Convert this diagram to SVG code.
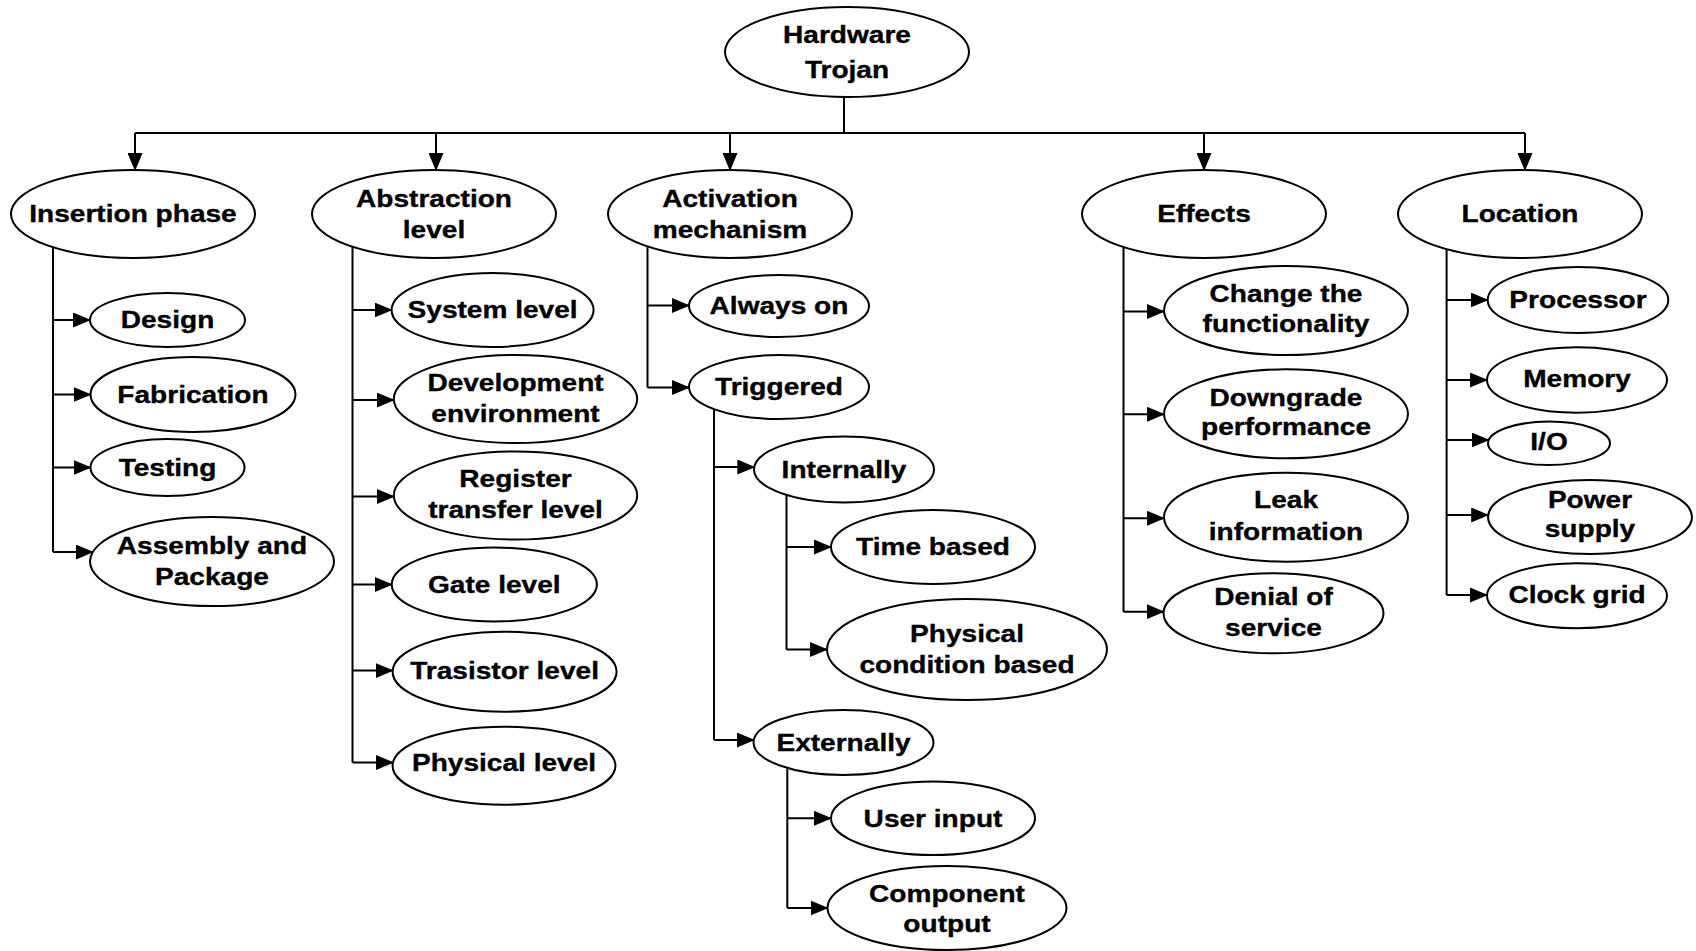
<svg xmlns="http://www.w3.org/2000/svg" width="1696" height="951" viewBox="0 0 1696 951">
<style>
.n{fill:#fff;stroke:#000;stroke-width:2}
.c{fill:none;stroke:#000;stroke-width:2}
.a{marker-end:url(#ah)}
text{font-family:"Liberation Sans",Arial,sans-serif;font-weight:bold;font-size:24px;text-anchor:middle;fill:#000;stroke:#000;stroke-width:0.35}
</style>
<defs>
<marker id="ah" markerUnits="userSpaceOnUse" markerWidth="18" markerHeight="15" refX="17" refY="7.5" orient="auto">
<path d="M0,0 L18,7.5 L0,15 z" fill="#000"/>
</marker>
</defs>
<rect width="1696" height="951" fill="#fff"/>
<g id="connectors">
<path class="c" d="M844,97 V133 M135,133 H1525"/>
<path class="c a" d="M135,133 V170"/>
<path class="c a" d="M436,133 V170"/>
<path class="c a" d="M730,133 V170"/>
<path class="c a" d="M1204,133 V170"/>
<path class="c a" d="M1525,133 V170"/>
<path class="c" d="M53,214 V552"/>
<path class="c a" d="M53,320 H90"/>
<path class="c a" d="M53,394.5 H90.5"/>
<path class="c a" d="M53,467.5 H90.5"/>
<path class="c a" d="M53,552 H92.8"/>
<path class="c" d="M352.5,214 V762.5"/>
<path class="c a" d="M352.5,310 H391.6"/>
<path class="c a" d="M352.5,400 H393.8"/>
<path class="c a" d="M352.5,496.5 H393.8"/>
<path class="c a" d="M352.5,584.5 H391.7"/>
<path class="c a" d="M352.5,670.6 H392.6"/>
<path class="c a" d="M352.5,762.5 H393"/>
<path class="c" d="M647.5,214 V387.5"/>
<path class="c a" d="M647.5,305.5 H689"/>
<path class="c a" d="M647.5,387.5 H689"/>
<path class="c" d="M714,387 V740"/>
<path class="c a" d="M714,467 H754.3"/>
<path class="c a" d="M714,740 H753.8"/>
<path class="c" d="M786.5,469 V649.5"/>
<path class="c a" d="M786.5,547 H831"/>
<path class="c a" d="M786.5,649.5 H827"/>
<path class="c" d="M787.3,742 V908"/>
<path class="c a" d="M787.3,818.3 H831"/>
<path class="c a" d="M787.3,908 H827.5"/>
<path class="c" d="M1123.5,214 V611.7"/>
<path class="c a" d="M1123.5,311.5 H1164"/>
<path class="c a" d="M1123.5,414.3 H1164"/>
<path class="c a" d="M1123.5,518.3 H1164"/>
<path class="c a" d="M1123.5,611.7 H1163.6"/>
<path class="c" d="M1446.6,214 V595"/>
<path class="c a" d="M1446.6,300 H1487.7"/>
<path class="c a" d="M1446.6,380 H1487"/>
<path class="c a" d="M1446.6,440 H1488.7"/>
<path class="c a" d="M1446.6,515 H1488.2"/>
<path class="c a" d="M1446.6,595 H1487"/>
</g>
<g id="hardware-trojan"><ellipse class="n" cx="847" cy="52" rx="122" ry="45"/><text transform="translate(847 0) scale(1.17 1)"><tspan x="0" y="43">Hardware</tspan><tspan x="0" y="78">Trojan</tspan></text></g>
<g id="insertion-phase"><ellipse class="n" cx="133" cy="214" rx="122" ry="44"/><text transform="translate(133 0) scale(1.17 1)"><tspan x="0" y="222">Insertion phase</tspan></text></g>
<g id="abstraction-level"><ellipse class="n" cx="434" cy="214" rx="122" ry="44"/><text transform="translate(434 0) scale(1.17 1)"><tspan x="0" y="207">Abstraction</tspan><tspan x="0" y="238">level</tspan></text></g>
<g id="activation-mechanism"><ellipse class="n" cx="730" cy="214" rx="122" ry="44"/><text transform="translate(730 0) scale(1.17 1)"><tspan x="0" y="207">Activation</tspan><tspan x="0" y="238">mechanism</tspan></text></g>
<g id="effects"><ellipse class="n" cx="1204" cy="214" rx="122" ry="44"/><text transform="translate(1204 0) scale(1.17 1)"><tspan x="0" y="222">Effects</tspan></text></g>
<g id="location"><ellipse class="n" cx="1520" cy="214" rx="122" ry="44"/><text transform="translate(1520 0) scale(1.17 1)"><tspan x="0" y="222">Location</tspan></text></g>
<g id="design"><ellipse class="n" cx="167.5" cy="320" rx="77.5" ry="27"/><text transform="translate(167.5 0) scale(1.17 1)"><tspan x="0" y="328">Design</tspan></text></g>
<g id="fabrication"><ellipse class="n" cx="193" cy="394.5" rx="102.5" ry="37.5"/><text transform="translate(193 0) scale(1.17 1)"><tspan x="0" y="403">Fabrication</tspan></text></g>
<g id="testing"><ellipse class="n" cx="167.5" cy="467.5" rx="77" ry="28.5"/><text transform="translate(167.5 0) scale(1.17 1)"><tspan x="0" y="476">Testing</tspan></text></g>
<g id="assembly-package"><ellipse class="n" cx="212" cy="561.5" rx="122" ry="44.5"/><text transform="translate(212 0) scale(1.17 1)"><tspan x="0" y="554">Assembly and</tspan><tspan x="0" y="585">Package</tspan></text></g>
<g id="system-level"><ellipse class="n" cx="492.6" cy="310" rx="101" ry="37"/><text transform="translate(492.6 0) scale(1.17 1)"><tspan x="0" y="318.5">System level</tspan></text></g>
<g id="development-environment"><ellipse class="n" cx="515.5" cy="399" rx="121.7" ry="44"/><text transform="translate(515.5 0) scale(1.17 1)"><tspan x="0" y="391">Development</tspan><tspan x="0" y="422">environment</tspan></text></g>
<g id="register-transfer-level"><ellipse class="n" cx="515.5" cy="495.5" rx="121.7" ry="44"/><text transform="translate(515.5 0) scale(1.17 1)"><tspan x="0" y="487.5">Register</tspan><tspan x="0" y="518.5">transfer level</tspan></text></g>
<g id="gate-level"><ellipse class="n" cx="494.3" cy="584.5" rx="102.6" ry="37"/><text transform="translate(494.3 0) scale(1.17 1)"><tspan x="0" y="593">Gate level</tspan></text></g>
<g id="trasistor-level"><ellipse class="n" cx="504.6" cy="671.7" rx="112" ry="40"/><text transform="translate(504.6 0) scale(1.17 1)"><tspan x="0" y="679.5">Trasistor level</tspan></text></g>
<g id="physical-level"><ellipse class="n" cx="504" cy="765.7" rx="111.4" ry="39"/><text transform="translate(504 0) scale(1.17 1)"><tspan x="0" y="771.5">Physical level</tspan></text></g>
<g id="always-on"><ellipse class="n" cx="779" cy="306" rx="90" ry="31"/><text transform="translate(779 0) scale(1.17 1)"><tspan x="0" y="314.5">Always on</tspan></text></g>
<g id="triggered"><ellipse class="n" cx="779" cy="387" rx="90" ry="32"/><text transform="translate(779 0) scale(1.17 1)"><tspan x="0" y="395.5">Triggered</tspan></text></g>
<g id="internally"><ellipse class="n" cx="844" cy="469.5" rx="90" ry="33"/><text transform="translate(844 0) scale(1.17 1)"><tspan x="0" y="478">Internally</tspan></text></g>
<g id="time-based"><ellipse class="n" cx="933" cy="547" rx="102" ry="37"/><text transform="translate(933 0) scale(1.17 1)"><tspan x="0" y="555">Time based</tspan></text></g>
<g id="physical-condition-based"><ellipse class="n" cx="967" cy="649.5" rx="140" ry="50.5"/><text transform="translate(967 0) scale(1.17 1)"><tspan x="0" y="642.5">Physical</tspan><tspan x="0" y="673">condition based</tspan></text></g>
<g id="externally"><ellipse class="n" cx="843.5" cy="742.5" rx="90" ry="32.5"/><text transform="translate(843.5 0) scale(1.17 1)"><tspan x="0" y="751.5">Externally</tspan></text></g>
<g id="user-input"><ellipse class="n" cx="933" cy="818.3" rx="102" ry="36.7"/><text transform="translate(933 0) scale(1.17 1)"><tspan x="0" y="826.7">User input</tspan></text></g>
<g id="component-output"><ellipse class="n" cx="947" cy="908" rx="119.5" ry="42"/><text transform="translate(947 0) scale(1.17 1)"><tspan x="0" y="901.7">Component</tspan><tspan x="0" y="931.7">output</tspan></text></g>
<g id="change-functionality"><ellipse class="n" cx="1286" cy="310.5" rx="122" ry="44.5"/><text transform="translate(1286 0) scale(1.17 1)"><tspan x="0" y="302.5">Change the</tspan><tspan x="0" y="332">functionality</tspan></text></g>
<g id="downgrade-performance"><ellipse class="n" cx="1286" cy="413.8" rx="122" ry="44.5"/><text transform="translate(1286 0) scale(1.17 1)"><tspan x="0" y="406.5">Downgrade</tspan><tspan x="0" y="435.5">performance</tspan></text></g>
<g id="leak-information"><ellipse class="n" cx="1286" cy="517.2" rx="122" ry="44.5"/><text transform="translate(1286 0) scale(1.17 1)"><tspan x="0" y="508.5">Leak</tspan><tspan x="0" y="540">information</tspan></text></g>
<g id="denial-of-service"><ellipse class="n" cx="1273.5" cy="613.3" rx="110" ry="40"/><text transform="translate(1273.5 0) scale(1.17 1)"><tspan x="0" y="605">Denial of</tspan><tspan x="0" y="636">service</tspan></text></g>
<g id="processor"><ellipse class="n" cx="1578" cy="300" rx="90.3" ry="33"/><text transform="translate(1578 0) scale(1.17 1)"><tspan x="0" y="308.5">Processor</tspan></text></g>
<g id="memory"><ellipse class="n" cx="1577" cy="380" rx="90" ry="32.7"/><text transform="translate(1577 0) scale(1.17 1)"><tspan x="0" y="387.5">Memory</tspan></text></g>
<g id="io"><ellipse class="n" cx="1549" cy="443.3" rx="61" ry="21.7"/><text transform="translate(1549 0) scale(1.17 1)"><tspan x="0" y="450">I/O</tspan></text></g>
<g id="power-supply"><ellipse class="n" cx="1590" cy="517" rx="102" ry="37"/><text transform="translate(1590 0) scale(1.17 1)"><tspan x="0" y="508.5">Power</tspan><tspan x="0" y="537.5">supply</tspan></text></g>
<g id="clock-grid"><ellipse class="n" cx="1577" cy="595.8" rx="90" ry="32.5"/><text transform="translate(1577 0) scale(1.17 1)"><tspan x="0" y="603">Clock grid</tspan></text></g>
</svg>
